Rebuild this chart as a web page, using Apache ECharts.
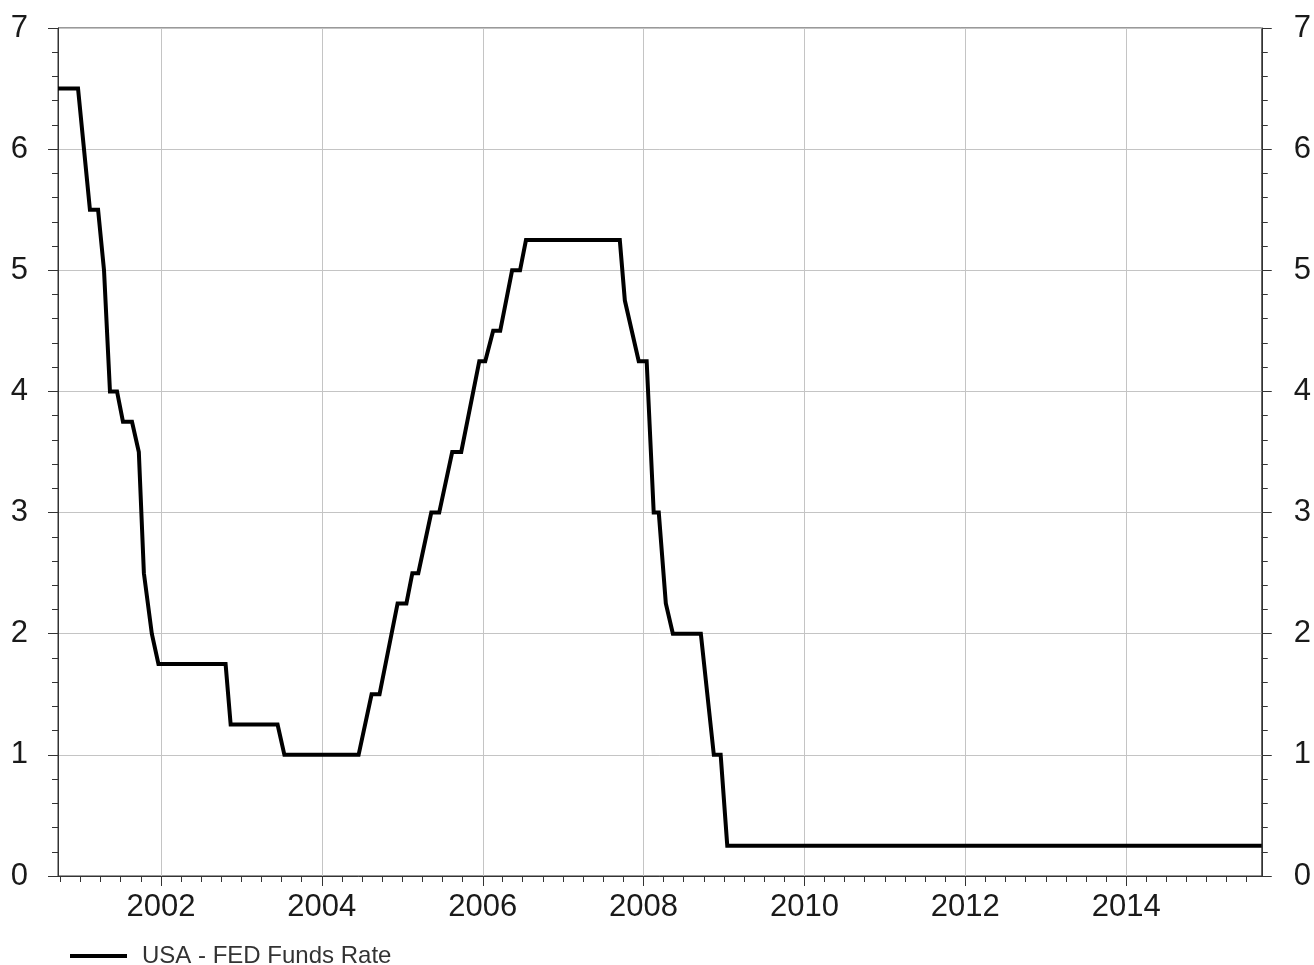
<!DOCTYPE html>
<html>
<head>
<meta charset="utf-8">
<script src="https://cdn.jsdelivr.net/npm/echarts@6/dist/echarts.min.js"></script>
<style>
html,body{margin:0;padding:0;background:#fff;}
#chart{width:1314px;height:965px;}
</style>
</head>
<body>
<div id="chart"></div>
<script>
// ---- data ----
const seriesName = 'USA - FED Funds Rate';
const dates = ['2000-09-20','2000-12-20','2001-02-12','2001-03-21','2001-04-17','2001-05-14','2001-06-15','2001-07-12','2001-08-22','2001-09-22','2001-10-15','2001-11-20','2001-12-20','2002-10-21','2002-11-13','2003-06-14','2003-07-15','2004-06-16','2004-08-14','2004-09-19','2004-12-10','2005-01-19','2005-02-15','2005-03-14','2005-05-12','2005-06-17','2005-08-15','2005-09-25','2005-12-16','2006-01-12','2006-02-17','2006-03-21','2006-05-14','2006-06-19','2006-07-16','2007-09-15','2007-10-08','2007-12-10','2008-01-15','2008-02-16','2008-03-10','2008-04-11','2008-05-13','2008-09-17','2008-11-15','2008-12-16','2009-01-15','2015-09-08'];
const rates = [6.5,6.5,5.5,5.5,5.0,4.0,4.0,3.75,3.75,3.5,2.5,2.0,1.75,1.75,1.25,1.25,1.0,1.0,1.5,1.5,2.25,2.25,2.5,2.5,3.0,3.0,3.5,3.5,4.25,4.25,4.5,4.5,5.0,5.0,5.25,5.25,4.75,4.25,4.25,3.0,3.0,2.25,2.0,2.0,1.0,1.0,0.25,0.25];
const yearTicks = [2002, 2004, 2006, 2008, 2010, 2012, 2014];
const yTicks = [0, 1, 2, 3, 4, 5, 6, 7];

// ---- build ----
const ts = d => Date.parse(d + 'T00:00:00Z');
const xMin = ts(dates[0]);
const xMax = ts(dates[dates.length - 1]);
const majorVals = yearTicks.map(y => Date.UTC(y, 0, 1));
const minorVals = [];
for (let y = 2000; y <= 2015; y++) {
  for (let m = 0; m < 12; m += 3) {
    const v = Date.UTC(y, m, 1);
    if (v >= xMin && v <= xMax && majorVals.indexOf(v) < 0) minorVals.push(v);
  }
}
const data = dates.map((d, i) => [ts(d), rates[i]]);

const axisColor = '#333';
const labelFont = { fontFamily: 'Liberation Sans', fontSize: 31, color: '#1a1a1a' };

const chart = echarts.init(document.getElementById('chart'));
chart.setOption({
  animation: false,
  backgroundColor: '#fff',
  grid: { left: 58, right: 50, top: 28, bottom: 89, show: true, borderColor: axisColor, borderWidth: 1, backgroundColor: 'transparent' },
  legend: {
    left: 70, top: 944, padding: 0, icon: 'rect', itemWidth: 57, itemHeight: 4,
    textStyle: { fontFamily: 'Liberation Sans', fontSize: 24, color: '#333', padding: [0, 0, 0, 10] },
    data: [seriesName]
  },
  xAxis: [
    {
      type: 'value', min: xMin, max: xMax,
      axisLine: { show: true, lineStyle: { color: axisColor, width: 1 } },
      axisTick: { show: true, length: 10, customValues: majorVals, lineStyle: { color: axisColor } },
      axisLabel: { show: true, customValues: majorVals, margin: 16, ...labelFont,
        formatter: v => String(new Date(v).getUTCFullYear()) },
      splitLine: { show: true, lineStyle: { color: '#c4c4c4', width: 1 } }
    },
    {
      type: 'value', min: xMin, max: xMax, position: 'bottom',
      axisLine: { show: false },
      axisTick: { show: true, length: 6, customValues: minorVals, lineStyle: { color: axisColor } },
      axisLabel: { show: false },
      splitLine: { show: false }
    }
  ],
  yAxis: [
    {
      type: 'value', min: 0, max: 7, interval: 1, position: 'left',
      axisLine: { show: true, lineStyle: { color: axisColor } },
      axisTick: { show: true, length: 10, lineStyle: { color: axisColor } },
      minorTick: { show: true, splitNumber: 5, length: 6, lineStyle: { color: axisColor } },
      axisLabel: { margin: 30, ...labelFont },
      splitLine: { show: true, lineStyle: { color: '#c4c4c4', width: 1 } }
    },
    {
      type: 'value', min: 0, max: 7, interval: 1, position: 'right',
      axisLine: { show: true, lineStyle: { color: axisColor } },
      axisTick: { show: true, length: 10, lineStyle: { color: axisColor } },
      minorTick: { show: true, splitNumber: 5, length: 6, lineStyle: { color: axisColor } },
      axisLabel: { margin: 32, ...labelFont },
      splitLine: { show: false }
    }
  ],
  series: [{
    name: seriesName, type: 'line', xAxisIndex: 0, yAxisIndex: 0,
    data: data, showSymbol: false, symbol: 'none',
    lineStyle: { color: '#000', width: 4, join: 'miter' },
    itemStyle: { color: '#000' }
  }]
});
</script>
</body>
</html>
